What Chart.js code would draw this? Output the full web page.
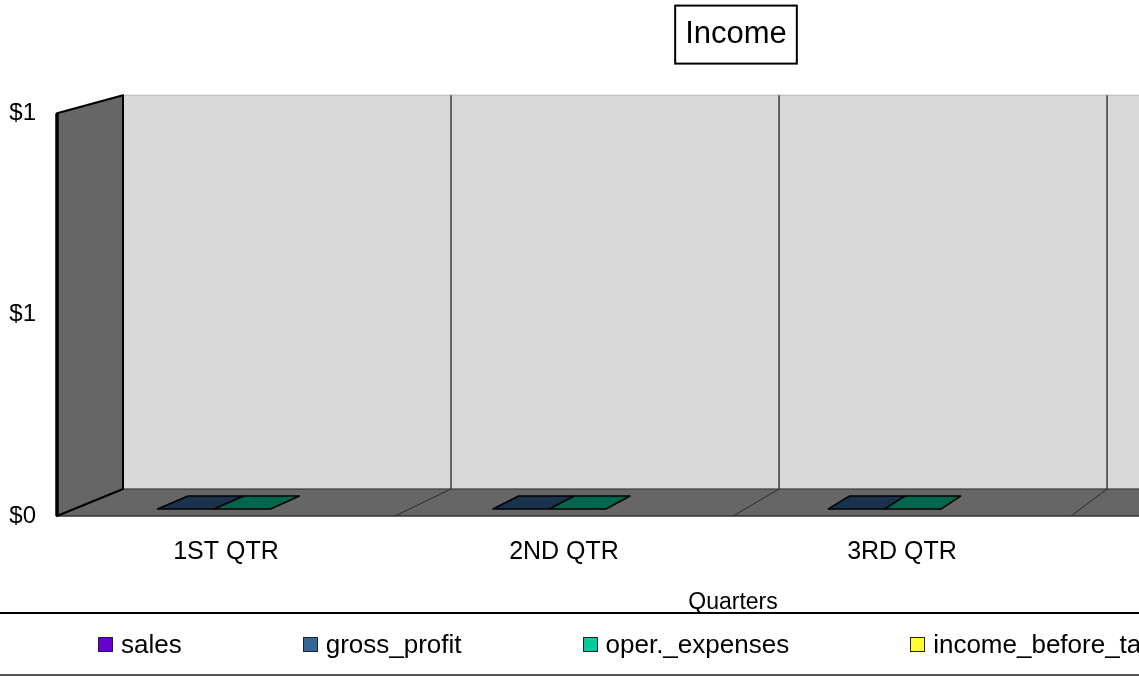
<!DOCTYPE html>
<html>
<head>
<meta charset="utf-8">
<title>Income</title>
<script src="https://cdn.jsdelivr.net/npm/chart.js@4.4.1/dist/chart.umd.min.js"></script>
<style>
    html, body { margin: 0; padding: 0; background: #fff; overflow: hidden; }
    #wrap { position: relative; width: 1139px; height: 676px; overflow: hidden; }
    #chart { position: absolute; left: 0; top: 0; }
    #legend {
        position: absolute; left: 0; top: 612px; width: 1139px; height: 64px;
        box-sizing: border-box; border-top: 2px solid #000; border-bottom: 2px solid #555;
        display: flex; align-items: center; white-space: nowrap;
        font: 26px "Liberation Sans", Arial, sans-serif; color: #000;
    }
    .item { flex: none; display: flex; align-items: center; margin-right: 121px; }
    .item:first-child { margin-left: 98px; }
    .box { width: 15px; height: 15px; border: 1px solid #222; margin-right: 8px; box-sizing: border-box; }
</style>
</head>
<body>
<div id="wrap">
    <canvas id="chart" width="1472" height="616"></canvas>
    <div id="legend"></div>
</div>
<script>
'use strict';

// Data
const quarters = ['1ST QTR', '2ND QTR', '3RD QTR', '4TH QTR'];
const seriesNames = ['sales', 'gross_profit', 'oper._expenses', 'income_before_tax'];
const seriesColors = ['#6600cc', '#336699', '#00cc99', '#ffff33'];
const sales = [null, null, null, null];
const grossProfit = [0, 0, 0, 0];
const operExpenses = [0, 0, 0, 0];
const incomeBeforeTax = [null, null, null, null];
const yMin = 0;
const yMax = 1;
const yStep = 0.5;

const FONT = '"Liberation Sans", Arial, sans-serif';

// 3D look: vanishing point (relative to chart area top-left) and back-plane scale
const PERSP = { vx: 2237, vy: -808, sx: 0.9705, sy: 0.9777 };
const BAR_DEPTH = [0.26, 0.74];   // front / back of the bars, as depth fraction
const BAR_SHIFT = 0.083;          // bars sit a bit left of the category centre
const WALL_BACK = '#d9d9d9';
const WALL_SIDE = '#666666';

function project(ca, x, y, t) {
    const vx = ca.left + PERSP.vx;
    const vy = ca.top + PERSP.vy;
    const kx = 1 - t * (1 - PERSP.sx);
    const ky = 1 - t * (1 - PERSP.sy);
    return [vx + kx * (x - vx), vy + ky * (y - vy)];
}

function poly(ctx, pts) {
    ctx.beginPath();
    ctx.moveTo(pts[0][0], pts[0][1]);
    pts.slice(1).forEach(p => ctx.lineTo(p[0], p[1]));
    ctx.closePath();
}

function line(ctx, a, b, color, width) {
    ctx.beginPath();
    ctx.moveTo(a[0], a[1]);
    ctx.lineTo(b[0], b[1]);
    ctx.strokeStyle = color;
    ctx.lineWidth = width;
    ctx.stroke();
}

function shade(hex, f) {
    const n = parseInt(hex.slice(1), 16);
    const r = Math.round(((n >> 16) & 255) * f);
    const g = Math.round(((n >> 8) & 255) * f);
    const b = Math.round((n & 255) * f);
    return `rgb(${r},${g},${b})`;
}

const wallsPlugin = {
    id: 'walls',
    beforeDatasetsDraw(chart) {
        const { ctx, chartArea: ca, scales: { x } } = chart;
        const P = (px, py, t) => project(ca, px, py, t);
        const catW = x.width / quarters.length;
        ctx.save();

        // back wall
        poly(ctx, [P(ca.left, ca.top, 1), P(ca.right, ca.top, 1), P(ca.right, ca.bottom, 1), P(ca.left, ca.bottom, 1)]);
        ctx.fillStyle = WALL_BACK;
        ctx.fill();
        ctx.strokeStyle = '#b4b4b4';
        ctx.lineWidth = 1;
        ctx.stroke();

        // floor
        poly(ctx, [P(ca.left, ca.bottom, 0), P(ca.left, ca.bottom, 1), P(ca.right, ca.bottom, 1), P(ca.right, ca.bottom, 0)]);
        ctx.fillStyle = WALL_SIDE;
        ctx.fill();

        // category separators on wall and floor
        quarters.forEach((q, i) => {
            const bx = x.getPixelForValue(i) + catW / 2;
            line(ctx, P(bx, ca.top, 1), P(bx, ca.bottom, 1), '#3c3c3c', 1.5);
            line(ctx, P(bx, ca.bottom, 1), P(bx, ca.bottom, 0), '#2a2a2a', 1);
        });

        line(ctx, P(ca.left, ca.bottom, 1), P(ca.right, ca.bottom, 1), '#333', 1);
        line(ctx, P(ca.left, ca.bottom, 0), P(ca.right, ca.bottom, 0), '#333', 1.5);

        // left side wall
        poly(ctx, [P(ca.left, ca.top, 0), P(ca.left, ca.top, 1), P(ca.left, ca.bottom, 1), P(ca.left, ca.bottom, 0)]);
        ctx.fillStyle = WALL_SIDE;
        ctx.fill();
        ctx.strokeStyle = '#000';
        ctx.lineWidth = 2;
        ctx.lineJoin = 'round';
        ctx.stroke();
        line(ctx, P(ca.left, ca.top, 0), P(ca.left, ca.bottom, 0), '#000', 3.5);

        ctx.restore();
    },
    // bars are drawn by afterDatasetsDraw as 3D blocks
    beforeDatasetDraw() {
        return false;
    },
    afterDatasetsDraw(chart) {
        const { ctx, chartArea: ca, scales: { x } } = chart;
        const P = (px, py, t) => project(ca, px, py, t);
        const shift = (x.width / quarters.length) * BAR_SHIFT;
        const [t1, t2] = BAR_DEPTH;
        ctx.save();
        ctx.lineJoin = 'round';
        chart.data.datasets.forEach((ds, i) => {
            const meta = chart.getDatasetMeta(i);
            meta.data.forEach((bar, j) => {
                if (ds.data[j] === null) return;
                const { x: bx, y, base, width } = bar.getProps(['x', 'y', 'base', 'width'], true);
                const x0 = bx - width / 2 - shift;
                const x1 = bx + width / 2 - shift;
                if (Math.abs(base - y) > 0.5) {
                    poly(ctx, [P(x1, y, t1), P(x1, y, t2), P(x1, base, t2), P(x1, base, t1)]);
                    ctx.fillStyle = shade(ds.backgroundColor, 0.7);
                    ctx.fill();
                    ctx.strokeStyle = '#000';
                    ctx.lineWidth = 1.5;
                    ctx.stroke();
                    poly(ctx, [P(x0, y, t1), P(x1, y, t1), P(x1, base, t1), P(x0, base, t1)]);
                    ctx.fillStyle = ds.backgroundColor;
                    ctx.fill();
                    ctx.stroke();
                }
                poly(ctx, [P(x0, y, t1), P(x1, y, t1), P(x1, y, t2), P(x0, y, t2)]);
                ctx.fillStyle = shade(ds.backgroundColor, 0.5);
                ctx.fill();
                ctx.strokeStyle = '#000';
                ctx.lineWidth = 1.5;
                ctx.stroke();
            });
        });
        ctx.restore();
    }
};

const TITLE_PAD = { top: 16, bottom: 60 };

const titleBoxPlugin = {
    id: 'titleBox',
    afterDraw(chart) {
        const tb = chart.titleBlock;
        const ctx = chart.ctx;
        ctx.save();
        ctx.font = `31px ${FONT}`;
        const w = ctx.measureText('Income').width;
        const cx = (tb.left + tb.right) / 2;
        const cy = tb.top + TITLE_PAD.top + 31 * 1.2 / 2;
        ctx.strokeStyle = '#000';
        ctx.lineWidth = 2;
        ctx.strokeRect(cx - w / 2 - 10, cy - 29, w + 20, 58);
        ctx.restore();
    }
};

const values = [sales, grossProfit, operExpenses, incomeBeforeTax];

new Chart(document.getElementById('chart'), {
    type: 'bar',
    data: {
        labels: quarters,
        datasets: seriesNames.map((name, i) => ({
            label: name,
            data: values[i],
            backgroundColor: seriesColors[i],
            borderWidth: 0,
            skipNull: true,
            barPercentage: 1,
            categoryPercentage: 0.337
        }))
    },
    options: {
        responsive: false,
        animation: false,
        devicePixelRatio: 1,
        events: [],
        layout: { padding: 0 },
        plugins: {
            legend: { display: false },
            tooltip: { enabled: false },
            title: {
                display: true,
                text: 'Income',
                color: '#000',
                font: { family: FONT, size: 31, weight: 'normal' },
                padding: TITLE_PAD
            }
        },
        scales: {
            x: {
                offset: true,
                grid: { display: false, drawTicks: false },
                border: { display: false },
                ticks: { color: '#000', font: { family: FONT, size: 25 }, padding: 21, maxRotation: 0, autoSkip: false },
                title: { display: true, text: 'Quarters', color: '#000', font: { family: FONT, size: 23 }, padding: 0 },
                afterFit(s) { s.height = 100; }
            },
            y: {
                min: yMin,
                max: yMax,
                grid: { display: false, drawTicks: false },
                border: { display: false },
                ticks: {
                    stepSize: yStep,
                    color: '#000',
                    font: { family: FONT, size: 24 },
                    padding: 21,
                    callback: v => '$' + Math.round(v)
                },
                afterFit(s) { s.width = 57; }
            },
            // empty right axis just reserves the space on the right
            yRight: {
                position: 'right',
                grid: { display: false, drawTicks: false },
                border: { display: false },
                ticks: { display: false },
                afterFit(s) { s.width = 63; }
            }
        }
    },
    plugins: [wallsPlugin, titleBoxPlugin]
});

// Legend
const legend = document.getElementById('legend');
seriesNames.forEach((name, i) => {
    const item = document.createElement('div');
    item.className = 'item';
    const box = document.createElement('span');
    box.className = 'box';
    box.style.background = seriesColors[i];
    item.appendChild(box);
    item.appendChild(document.createTextNode(name));
    legend.appendChild(item);
});
</script>
</body>
</html>
